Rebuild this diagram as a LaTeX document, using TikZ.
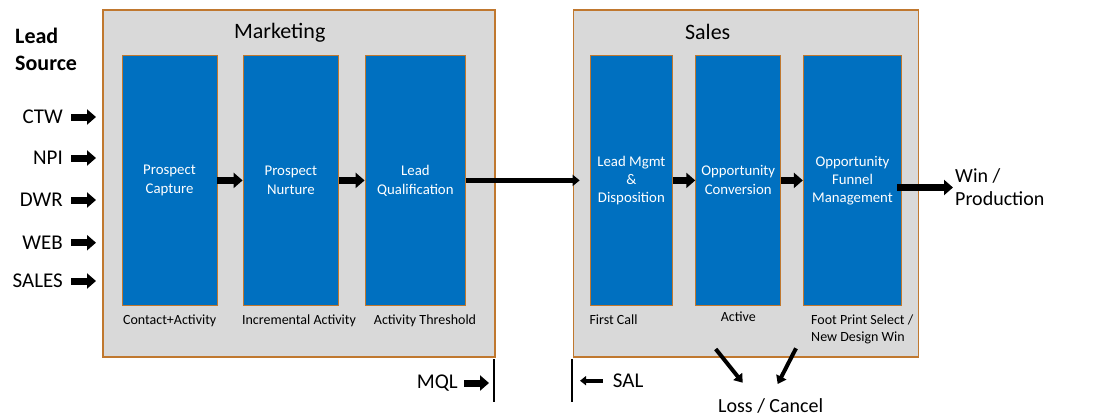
\documentclass[tikz,border=0pt]{standalone}
\usepackage{fontspec}
\setmainfont{Carlito}
\usetikzlibrary{positioning,arrows.meta}
\definecolor{panelgray}{HTML}{D9D9D9}
\definecolor{edgebrown}{HTML}{C0782F}
\definecolor{stageblue}{HTML}{0070C0}
\tikzset{
    panelbox/.style={ % outer grey panels
        draw=edgebrown,
        line width=1.3pt,
        fill=panelgray,
        minimum height=347pt
    },
    stagebox/.style={ % blue funnel stages
        draw=edgebrown,
        line width=0.9pt,
        fill=stageblue,
        text=white,
        align=center,
        inner sep=0pt,
        minimum height=249.3pt,
        font=\fontsize{14.8}{19}\selectfont
    },
    steplabel/.style={font=\fontsize{14}{17}\selectfont, align=left, inner sep=0pt},
    biglabel/.style={font=\fontsize{21}{23}\selectfont, align=left, inner sep=0pt},
    titlelabel/.style={font=\fontsize{22}{26}\selectfont, inner sep=0pt},
    blockarrow/.style={line width=7pt, -{Triangle[length=9pt,width=15pt]}},
    thinarrow/.style={line width=5pt, -{Triangle[length=7pt,width=11pt]}},
    smallarrow/.style={line width=4pt, -{Triangle[length=6pt,width=9pt]}},
    slantarrow/.style={line width=4pt, -{Triangle[length=8pt,width=11pt]}}
}

\begin{document}
\begin{tikzpicture}[x=1pt,y=-1pt]
        \useasboundingbox (0,0) rectangle (1115,416);

        % panels
        \node[panelbox, minimum width=392pt] (mkt) at (299,183.5) {};
        \node[panelbox, minimum width=345pt] (sls) at (745.8,183.5) {};
        \node[titlelabel] (mktTitle) at (279.7,33) {Marketing};
        \node[titlelabel] (slsTitle) at (707.7,31.5) {Sales};

        % marketing stages
        \node[stagebox, minimum width=95pt] (pc) at (169.5,180.4) {Prospect\\Capture};
        \node[stagebox, minimum width=95.7pt] (pn) at (290.9,180.4) {Prospect\\Nurture};
        \node[stagebox, minimum width=100.7pt] (lq) at (415.4,180.4) {Lead\\Qualification};

        % sales stages
        \node[stagebox, minimum width=82.7pt, font=\fontsize{14.8}{18}\selectfont] (lm) at (631.4,180.4) {Lead Mgmt\\\&\\Disposition};
        \node[stagebox, minimum width=85pt] (oc) at (738.2,180.4) {Opportunity\\Conversion};
        \node[stagebox, minimum width=98.4pt, font=\fontsize{14.8}{18}\selectfont] (of) at (852.5,180.4) {Opportunity\\Funnel\\Management};

        % labels under the stages
        \node[steplabel, anchor=base] (pcNote) at (169.7,324) {Contact+Activity};
        \node[steplabel, anchor=base] (pnNote) at (299,324) {Incremental Activity};
        \node[steplabel, anchor=base] (lqNote) at (425,324) {Activity Threshold};
        \node[steplabel, anchor=base west] (lmNote) at (589.3,324) {First Call};
        \node[steplabel, anchor=base] (ocNote) at (738.3,321.7) {Active};
        \node[steplabel, anchor=west] (ofNote) at (811,329.5) {Foot Print Select /\\New Design Win};

        \draw[blockarrow] (pc.east) -- (pn.west);
        \draw[blockarrow] (pn.east) -- (lq.west);
        \draw[thinarrow, shorten >=-7pt] (lq.east) -- (sls.west |- lq.east);
        \draw[blockarrow] (lm.east) -- (oc.west);
        \draw[blockarrow] (oc.east) -- (of.west);

        % lead sources
        \node[biglabel, font=\fontsize{22}{27}\bfseries] (lead) at (15,49) [anchor=west] {Lead\\Source};
        \foreach \src/\y in {CTW/117,NPI/158,DWR/200,WEB/242.7,SALES/281} {
            \node[biglabel, anchor=east] (src\src) at (63,\y) {\src};
            \coordinate (in\src) at (96,\y);
            \draw[blockarrow, shorten <=8pt] (src\src.east) -- (in\src);
        }

        % outcome
        \node[biglabel, anchor=west, font=\fontsize{20}{23}\selectfont, inner sep=2pt] (win) at (953,187.5) {Win /\\Production};
        \draw[blockarrow, shorten <=-5pt] (of.east |- win.west) -- (win.west);

        \node[biglabel, font=\fontsize{20}{23}\selectfont] (loss) at (770.7,406) {Loss / Cancel};
        \coordinate (lossA) at (715.7,349);
        \coordinate (lossB) at (742.7,382.7);
        \coordinate (lossC) at (796,348.3);
        \coordinate (lossD) at (777.7,384);
        \draw[slantarrow] (lossA) -- (lossB);
        \draw[slantarrow] (lossC) -- (lossD);

        % hand-off marks
        \coordinate (mqlTop) at (494.3,359.3);
        \coordinate (mqlBot) at (494.3,401.7);
        \coordinate (mqlTip) at (489,383);
        \draw[line width=2pt] (mqlTop) -- (mqlBot);
        \node[biglabel, anchor=east] (mql) at (458,383) {MQL};
        \draw[blockarrow, shorten <=6pt] (mql.east) -- (mqlTip);

        \coordinate (salTop) at (572.3,359.3);
        \coordinate (salBot) at (572.3,401.7);
        \coordinate (salTip) at (580,380.7);
        \draw[line width=2pt] (salTop) -- (salBot);
        \node[biglabel, anchor=west] (sal) at (612.7,380.7) {SAL};
        \draw[smallarrow, shorten <=10pt] (sal.west) -- (salTip);
\end{tikzpicture}
\end{document}
